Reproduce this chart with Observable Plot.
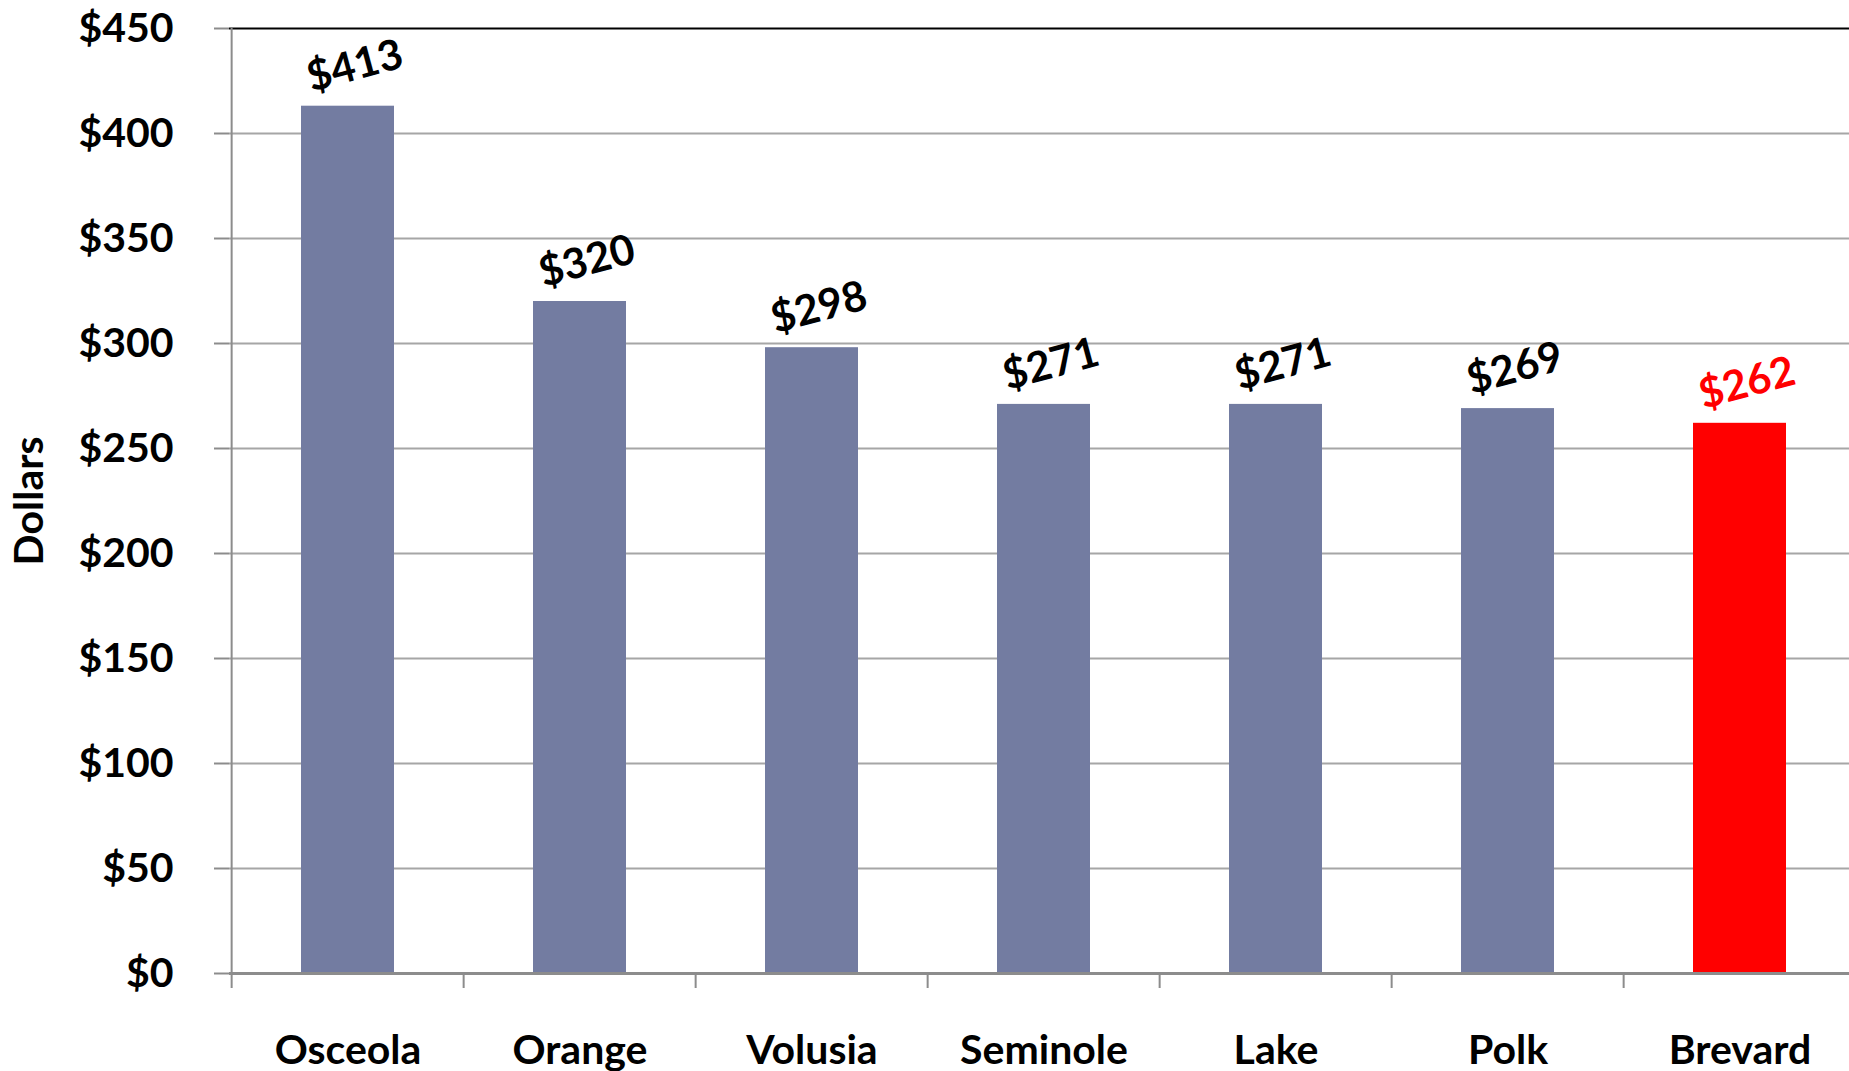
<!DOCTYPE html>
<html>
<head>
<meta charset="utf-8">
<script src="https://cdn.jsdelivr.net/npm/d3@7"></script>
<script src="https://cdn.jsdelivr.net/npm/@observablehq/plot@0.6"></script>
<style>
  html, body { margin: 0; padding: 0; background: #ffffff; overflow: hidden; }
  #chart svg { display: block; max-width: none !important; }
</style>
</head>
<body>
<div id="chart"></div>
<script>
// Data
const counties = ["Osceola", "Orange", "Volusia", "Seminole", "Lake", "Polk", "Brevard"];
const dollars = [413, 320, 298, 271, 271, 269, 262];
const valueLabels = ["$413", "$320", "$298", "$271", "$271", "$269", "$262"];
const highlighted = ["Brevard"];
const yTicks = [0, 50, 100, 150, 200, 250, 300, 350, 400, 450];
const yTickLabels = ["$0", "$50", "$100", "$150", "$200", "$250", "$300", "$350", "$400", "$450"];
const yLabel = "Dollars";

const rows = counties.map((c, i) => ({county: c, value: dollars[i], label: valueLabels[i]}));

const W = 1858, H = 1071;
const mL = 229, mR = 0, mT = 28, mB = 98;
const step = (W - mL - mR) / counties.length;
const barColor = "#737ca1";
const hiColor = "#ff0000";
const fillOf = d => highlighted.includes(d.county) ? hiColor : barColor;
const textOf = d => highlighted.includes(d.county) ? hiColor : "#000000";

const chart = Plot.plot({
  width: W,
  height: H,
  marginLeft: mL,
  marginRight: mR,
  marginTop: mT,
  marginBottom: mB,
  style: {
    fontFamily: "Lato, 'Open Sans', sans-serif",
    fontWeight: "bold",
    fontSize: "41px",
    color: "#000000",
    background: "#ffffff",
    overflow: "visible"
  },
  x: {domain: counties, paddingInner: 0.6, paddingOuter: 0.3, align: 0.5},
  y: {domain: [0, 450]},
  marks: [
    // gridlines
    Plot.ruleY(yTicks.filter(t => t > 0 && t < 450), {stroke: "#a6a6a6", strokeWidth: 2}),
    // top border
    Plot.ruleY([450], {stroke: "#000000", strokeWidth: 2}),
    // bars
    Plot.barY(rows, {x: "county", y: "value", fill: fillOf}),
    // left axis line (left edge of the first category band)
    Plot.ruleX([counties[0]], {x: d => d, dx: -step / 2, y1: 0, y2: 450, stroke: "#8c8c8c", strokeWidth: 2}),
    // bottom axis line
    Plot.ruleY([0], {stroke: "#8c8c8c", strokeWidth: 3}),
    // y axis
    Plot.axisY({
      ticks: yTicks,
      tickFormat: (d) => yTickLabels[yTicks.indexOf(d)],
      tickSize: 15,
      tickPadding: 41,
      stroke: "#8c8c8c",
      strokeWidth: 2,
      label: null,
      fontSize: 41
    }),
    // x axis boundary ticks
    Plot.axisX({
      text: null,
      tickSize: 15,
      dx: -step / 2,
      stroke: "#8c8c8c",
      strokeWidth: 2,
      label: null
    }),
    // x axis labels
    Plot.axisX({
      tickSize: 0,
      tickPadding: 61,
      label: null,
      fontSize: 41
    }),
    // value labels
    Plot.text(rows, {
      x: "county",
      y: "value",
      text: "label",
      fill: textOf,
      rotate: -15,
      dy: -40,
      dx: 7,
      fontSize: 42,
      fontWeight: "bold"
    }),
    // y title
    Plot.text([yLabel], {
      frameAnchor: "left",
      textAnchor: "middle",
      lineAnchor: "middle",
      dx: -200,
      rotate: -90,
      fontSize: 41,
      fontWeight: "bold",
      fill: "#000000"
    })
  ]
});

document.getElementById("chart").appendChild(chart);
</script>
</body>
</html>
